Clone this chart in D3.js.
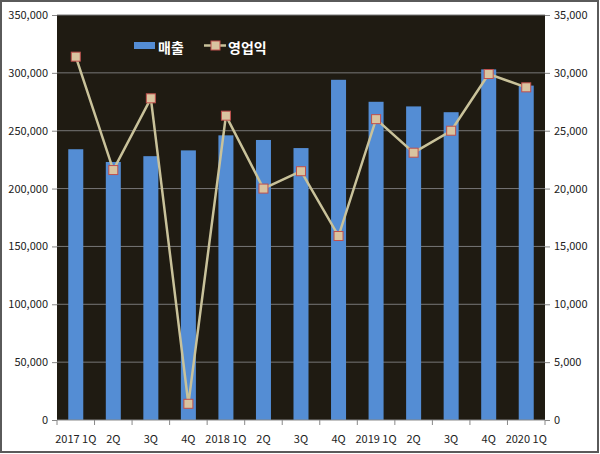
<!DOCTYPE html>
<html>
<head>
<meta charset="utf-8">
<script src="https://cdn.jsdelivr.net/npm/d3@7"></script>
<style>
  body { margin:0; background:#fff; }
  svg text { font-family:"Noto Sans CJK KR","Noto Sans",sans-serif; }
</style>
</head>
<body>
<div id="chart"></div>
<script>
// quarterly data
var quarters = ["2017 1Q","2Q","3Q","4Q","2018 1Q","2Q","3Q","4Q","2019 1Q","2Q","3Q","4Q","2020 1Q"];
var sales = [234000,223000,228000,233000,246000,242000,235000,294000,275000,271000,266000,303000,289000];
var profit = [31400,21600,27800,1400,26300,20000,21500,15900,26000,23100,25000,29900,28750];
var leftTicks = [0,50000,100000,150000,200000,250000,300000,350000];
var rightTicks = [0,5000,10000,15000,20000,25000,30000,35000];

var W = 600, H = 454,
    margin = {top: 15, right: 55, bottom: 34, left: 57},
    width = W - margin.left - margin.right,
    height = H - margin.top - margin.bottom;

var svg = d3.select("#chart").append("svg").attr("width", W).attr("height", H);

svg.append("rect").attr("x",1).attr("y",1).attr("width",W-3).attr("height",H-3)
  .attr("fill","#fff").attr("stroke","#5a5a5a").attr("stroke-width",2);

var g = svg.append("g").attr("transform","translate("+margin.left+","+margin.top+")");

var x = d3.scaleBand().domain(quarters.map(function(d,i){ return i; })).range([0,width]).paddingInner(0).paddingOuter(0);
var y = d3.scaleLinear().domain([0,350000]).range([height,0]);
var y2 = d3.scaleLinear().domain([0,35000]).range([height,0]);

g.append("rect").attr("width",width).attr("height",height).attr("fill","#1f1b12");

// grid
g.append("g").selectAll("line").data(leftTicks.slice(1)).enter().append("line")
  .attr("x1",0).attr("x2",width)
  .attr("y1",function(d){ return y(d); }).attr("y2",function(d){ return y(d); })
  .attr("stroke","#777").attr("stroke-width",1);

// bars
var bw = x.bandwidth()*0.4;
g.append("g").selectAll("rect").data(sales).enter().append("rect")
  .attr("x",function(d,i){ return x(i)+x.bandwidth()/2-bw/2; })
  .attr("y",function(d){ return y(d); })
  .attr("width",bw)
  .attr("height",function(d){ return height-y(d); })
  .attr("fill","#548dd4");

// line
var line = d3.line()
  .x(function(d,i){ return x(i)+x.bandwidth()/2; })
  .y(function(d){ return y2(d); });
g.append("path").datum(profit).attr("d",line)
  .attr("fill","none").attr("stroke","#c9c29a").attr("stroke-width",2.5);

g.append("g").selectAll("rect").data(profit).enter().append("rect")
  .attr("x",function(d,i){ return x(i)+x.bandwidth()/2-4.5; })
  .attr("y",function(d){ return y2(d)-4.5; })
  .attr("width",9).attr("height",9)
  .attr("fill","#d9c4a0").attr("stroke","#c0504d").attr("stroke-width",1);

// axes
var fmt = d3.format(",");
var axL = g.append("g").call(d3.axisLeft(y).tickValues(leftTicks).tickFormat(fmt).tickSize(5));
var axR = g.append("g").attr("transform","translate("+width+",0)")
  .call(d3.axisRight(y2).tickValues(rightTicks).tickFormat(fmt).tickSize(5));
[axL,axR].forEach(function(a){
  a.select(".domain").remove();
  a.selectAll(".tick line").attr("stroke","#888");
  a.selectAll("text").attr("fill","#222").attr("font-size","11px");
});
axL.selectAll("text").attr("x",-9);
axR.selectAll("text").attr("x",9);

var axB = g.append("g").attr("transform","translate(0,"+height+")");
axB.append("line").attr("x1",0).attr("x2",width).attr("stroke","#888");
axB.selectAll(".tk").data(d3.range(quarters.length+1)).enter().append("line")
  .attr("x1",function(i){ return i*x.step(); }).attr("x2",function(i){ return i*x.step(); })
  .attr("y1",0).attr("y2",5).attr("stroke","#888");
axB.selectAll("text").data(quarters).enter().append("text")
  .attr("x",function(d,i){ return x(i)+x.bandwidth()/2; })
  .attr("y",23).attr("text-anchor","middle")
  .attr("font-size","11px").attr("fill","#222")
  .text(function(d){ return d; });

// legend
var lg = svg.append("g");
lg.append("rect").attr("x",134).attr("y",42).attr("width",21).attr("height",7).attr("fill","#548dd4");
lg.append("text").attr("x",158).attr("y",53).attr("font-size","14px").attr("fill","#fff").attr("font-weight","bold").text("매출");
lg.append("line").attr("x1",204).attr("x2",226).attr("y1",45.5).attr("y2",45.5).attr("stroke","#c9c29a").attr("stroke-width",2.5);
lg.append("rect").attr("x",211).attr("y",41).attr("width",9).attr("height",9)
  .attr("fill","#d9c4a0").attr("stroke","#c0504d");
lg.append("text").attr("x",228).attr("y",53).attr("font-size","14px").attr("fill","#fff").attr("font-weight","bold").text("영업익");
</script>
</body>
</html>
